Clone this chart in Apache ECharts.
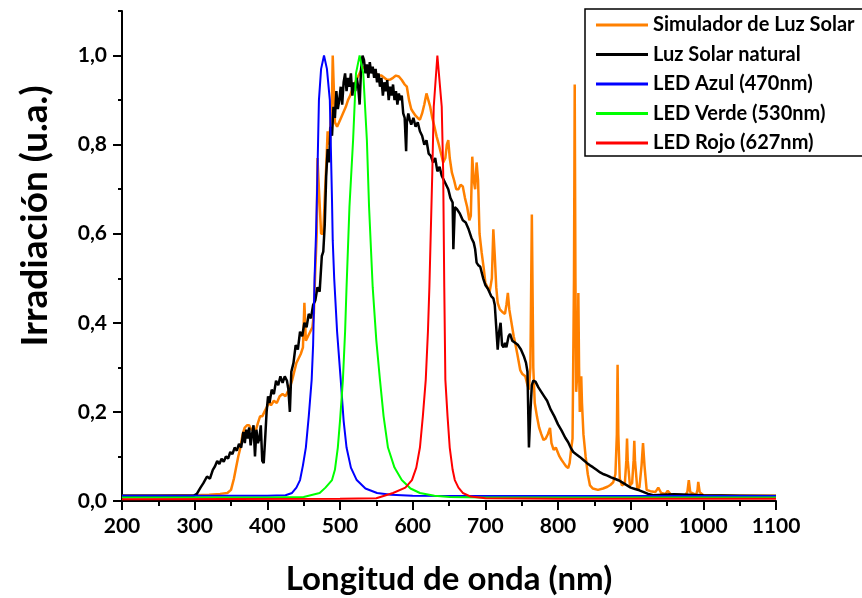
<!DOCTYPE html>
<html>
<head>
<meta charset="utf-8">
<script src="https://cdn.jsdelivr.net/npm/echarts@6/dist/echarts.min.js"></script>
<style>html,body{margin:0;padding:0;background:#fff}#c{width:862px;height:598px}</style>
</head>
<body>
<div id="c"></div>
<script>
// ---- data (wavelength nm, irradiance a.u.) ----
const seriesNames = ['Simulador de Luz Solar', 'Luz Solar natural', 'LED Azul (470nm)', 'LED Verde (530nm)', 'LED Rojo (627nm)'];
const seriesColors = ['#FF8000', '#000000', '#0000FF', '#00FF00', '#FF0000'];
const yTickValues = [0, 0.2, 0.4, 0.6, 0.8, 1.0];

const simX = [200,250,300,320,335,345,350,354,357,360,363,366,369,372,375,378,381,384,387,390,393,396,399,402,405,409,413,417,421,425,428,431,434,437,440,443,446,449,451,453,456,459,462,464,466,468,469,471,474,477,479,481,483,485,487,489,490,491,493,496,500,504,508,511,514,518,521,524,527,530,534,537,541,545,549,553,557,561,565,569,573,577,581,585,589,592,595,598,601,604,607,610,613,616,619,621,624,627,630,633,636,639,642,645,647,649,651,654,657,660,663,666,669,672,675,678,680,682,684,686,688,690,692,695,698,700,703,706,709,711,713,715,717,720,723,727,729,731,733,735,737,739,741,744,748,751,755,758,760,762,764,766,768,771,774,777,780,783,786,789,791,794,797,799,802,805,808,811,814,816,818,820,822,823,824,825,826,827,828,829,830,832,833,835,838,841,844,848,855,862,868,872,876,879,881,882,883,885,888,892,894,895,896,899,902,904,905,906,909,912,915,917,919,922,927,934,938,942,948,951,955,965,975,978,980,982,990,992,993,995,1000,1050,1100];
const simY = [0.012,0.012,0.013,0.014,0.016,0.018,0.025,0.05,0.075,0.1,0.12,0.15,0.165,0.17,0.17,0.16,0.162,0.158,0.175,0.19,0.19,0.2,0.21,0.22,0.215,0.225,0.22,0.235,0.24,0.235,0.245,0.255,0.27,0.29,0.31,0.32,0.33,0.345,0.445,0.36,0.37,0.38,0.39,0.42,0.52,0.6,0.77,0.7,0.6,0.6,0.68,0.75,0.83,0.8,0.8,0.9,1.0,0.95,0.85,0.84,0.855,0.87,0.885,0.9,0.91,0.93,0.94,0.95,0.96,0.97,0.975,0.975,0.97,0.965,0.96,0.955,0.955,0.95,0.945,0.946,0.95,0.955,0.953,0.945,0.935,0.93,0.9,0.88,0.872,0.865,0.86,0.856,0.87,0.89,0.915,0.915,0.886,0.86,0.84,0.818,0.8,0.78,0.76,0.77,0.8,0.81,0.77,0.737,0.72,0.7,0.7,0.71,0.706,0.68,0.66,0.63,0.64,0.773,0.72,0.7,0.76,0.72,0.6,0.557,0.52,0.49,0.48,0.47,0.5,0.61,0.55,0.48,0.445,0.43,0.425,0.42,0.44,0.467,0.43,0.41,0.39,0.37,0.355,0.33,0.294,0.285,0.28,0.26,0.25,0.3,0.643,0.3,0.22,0.19,0.165,0.15,0.137,0.14,0.15,0.164,0.13,0.115,0.12,0.12,0.1,0.092,0.085,0.078,0.074,0.085,0.115,0.14,0.5,0.935,0.5,0.245,0.243,0.3,0.467,0.3,0.2,0.28,0.22,0.15,0.1,0.06,0.035,0.028,0.025,0.028,0.032,0.036,0.042,0.06,0.15,0.306,0.15,0.05,0.035,0.04,0.09,0.14,0.09,0.035,0.04,0.09,0.135,0.09,0.03,0.03,0.08,0.13,0.08,0.025,0.022,0.02,0.03,0.018,0.016,0.023,0.015,0.014,0.013,0.02,0.047,0.02,0.014,0.025,0.043,0.02,0.013,0.012,0.012];

const sunX = [200,250,299,303,308,312,317,321,325,328,331,334,337,340,343,346,349,352,355,358,361,364,367,369,371,373,375,377,379,381,383,385,387,389,391,393,395,397,399,401,403,406,409,412,415,418,421,424,427,429,431,433,436,439,442,445,448,451,454,457,460,463,466,469,472,475,477,479,481,483,485,487,489,491,493,495,497,499,501,503,505,507,509,511,513,515,517,519,521,523,525,527,529,531,533,535,537,539,541,543,545,547,549,551,553,555,557,559,561,563,565,567,569,571,573,575,577,579,581,583,585,587,589,591,592,594,596,598,601,604,607,610,613,616,619,622,625,628,631,634,637,640,643,646,649,652,655,656,658,661,665,669,673,677,681,684,686,688,690,693,697,700,704,708,711,713,715,717,719,721,723,725,727,729,732,734,737,741,745,749,753,756,758,760,762,764,766,769,773,777,781,785,790,795,800,805,810,814,818,821,825,830,835,840,844,848,853,858,863,868,873,878,884,890,895,900,906,912,918,924,931,945,960,980,1000,1050,1100];
const sunY = [0.012,0.012,0.012,0.016,0.03,0.04,0.055,0.05,0.07,0.078,0.09,0.083,0.095,0.088,0.1,0.095,0.11,0.105,0.12,0.113,0.128,0.12,0.155,0.13,0.16,0.14,0.165,0.125,0.15,0.17,0.1,0.16,0.13,0.14,0.17,0.09,0.085,0.14,0.2,0.235,0.22,0.25,0.24,0.27,0.26,0.28,0.265,0.28,0.27,0.25,0.2,0.29,0.31,0.35,0.34,0.38,0.37,0.4,0.39,0.42,0.41,0.44,0.45,0.48,0.47,0.55,0.56,0.62,0.73,0.79,0.76,0.84,0.82,0.885,0.86,0.92,0.88,0.9,0.93,0.89,0.94,0.96,0.92,0.95,0.93,0.96,0.91,0.94,0.92,0.95,0.93,0.89,0.97,1.0,0.99,0.96,0.98,0.95,0.985,0.96,0.975,0.95,0.97,0.94,0.96,0.93,0.95,0.91,0.94,0.92,0.945,0.9,0.93,0.91,0.935,0.9,0.92,0.89,0.915,0.9,0.91,0.87,0.86,0.785,0.85,0.87,0.855,0.845,0.86,0.84,0.85,0.83,0.82,0.8,0.81,0.78,0.775,0.76,0.77,0.74,0.75,0.73,0.72,0.71,0.7,0.68,0.67,0.565,0.66,0.655,0.645,0.63,0.625,0.61,0.59,0.58,0.565,0.535,0.53,0.526,0.5,0.485,0.475,0.46,0.455,0.44,0.39,0.34,0.38,0.4,0.35,0.345,0.355,0.345,0.37,0.375,0.36,0.355,0.35,0.34,0.325,0.31,0.29,0.12,0.2,0.26,0.27,0.268,0.255,0.245,0.235,0.225,0.205,0.19,0.172,0.158,0.142,0.132,0.118,0.11,0.105,0.099,0.092,0.085,0.08,0.076,0.07,0.064,0.06,0.057,0.053,0.05,0.046,0.04,0.035,0.03,0.027,0.024,0.02,0.016,0.013,0.014,0.015,0.014,0.013,0.012,0.011];

const blueX = [200,300,400,425,434,440,445,449,453,457,461,463,465,467,468.5,471,474,478,482,486,489,490,492,496,501,505,509,515,523,535,551,570,600,700,800,900,1000,1100];
const blueY = [0.012,0.012,0.012,0.013,0.018,0.03,0.047,0.08,0.12,0.19,0.272,0.35,0.5,0.6,0.7,0.9,0.97,1.0,0.97,0.9,0.675,0.585,0.5,0.38,0.272,0.18,0.12,0.075,0.047,0.028,0.018,0.014,0.012,0.011,0.011,0.011,0.011,0.011];

const greenX = [200,400,450,472,480,489,493,497,500,504,507,509,513,518,522,527,532,537,540,545,550,555,560,566,575,585,597,610,630,651,700,800,1100];
const greenY = [0.008,0.008,0.009,0.018,0.03,0.047,0.07,0.12,0.18,0.272,0.38,0.48,0.66,0.81,0.96,1.0,0.96,0.81,0.66,0.48,0.36,0.272,0.19,0.12,0.075,0.047,0.028,0.018,0.012,0.009,0.008,0.008,0.008];

const redX = [200,500,550,573,590,599,605,610,614,618,621,623,627,629,634,640,642,643.5,645,648,651,655,658,663,669,680,700,800,1100];
const redY = [0.004,0.005,0.006,0.018,0.03,0.047,0.075,0.12,0.19,0.272,0.38,0.48,0.737,0.885,1.0,0.885,0.737,0.48,0.272,0.19,0.12,0.07,0.047,0.03,0.018,0.01,0.006,0.005,0.005];

const allX = [simX, sunX, blueX, greenX, redX];
const allY = [simY, sunY, blueY, greenY, redY];
const lineWidths = [2.5, 2.5, 2, 2, 2];

const FONT = 'Lato, "Open Sans", sans-serif';
const chart = echarts.init(document.getElementById('c'), null, {renderer: 'canvas'});

const series = seriesNames.map((name, i) => ({
  name: name,
  type: 'line',
  data: allX[i].map((x, k) => [x, allY[i][k]]),
  showSymbol: false,
  symbol: 'none',
  lineStyle: {color: seriesColors[i], width: lineWidths[i]},
  itemStyle: {color: seriesColors[i]},
  z: 2 + i,
  animation: false
}));

const fmtY = v => v.toFixed(1).replace('.', ',');
const fmtX = v => String(Math.round(v));

chart.setOption({
  backgroundColor: '#fff',
  animation: false,
  grid: {left: 122, right: 86, top: 11, bottom: 97, containLabel: false, outerBoundsMode: 'none'},
  legend: {
    data: seriesNames,
    orient: 'vertical',
    left: 585, top: 9,
    padding: [5, 0, 0, 11],
    itemWidth: 52, itemHeight: 3,
    itemGap: 7.5,
    icon: 'rect',
    textStyle: {fontFamily: FONT, fontWeight: 'bold', fontSize: 20, color: '#000', lineHeight: 22}
  },
  graphic: [
    {type: 'rect', shape: {x: 585, y: 9, width: 300, height: 147}, style: {fill: 'none', stroke: '#000', lineWidth: 1.5}, z: 100, silent: true},
    {type: 'text', x: 35, y: 216, rotation: Math.PI / 2,
     style: {text: 'Irradiación (u.a.)', font: 'bold 37px ' + FONT, fill: '#000', textAlign: 'center', textVerticalAlign: 'middle', align: 'center', verticalAlign: 'middle'}}
  ],
  xAxis: {
    type: 'value', min: 200, max: 1100, interval: 100,
    name: 'Longitud de onda (nm)', nameLocation: 'middle', nameGap: 62,
    nameTextStyle: {fontFamily: FONT, fontWeight: 'bold', fontSize: 33, color: '#000'},
    axisLine: {show: true, onZero: false, lineStyle: {color: '#000', width: 2}},
    axisTick: {show: true, inside: false, length: 9, lineStyle: {color: '#000', width: 2}},
    minorTick: {show: true, splitNumber: 2, length: 5, lineStyle: {color: '#000', width: 2}},
    axisLabel: {formatter: fmtX, fontFamily: FONT, fontWeight: 'bold', fontSize: 21, color: '#000', margin: 15},
    splitLine: {show: false}, minorSplitLine: {show: false}
  },
  yAxis: [
    {
      type: 'value', min: 0, max: 1.1, interval: 0.1, position: 'left',
      axisLine: {show: true, onZero: false, lineStyle: {color: '#000', width: 2}},
      axisTick: {show: true, inside: false, length: 4, lineStyle: {color: '#000', width: 2}},
      axisLabel: {show: false},
      splitLine: {show: false}
    },
    {
      type: 'value', min: 0, max: 1.1, position: 'left',
      axisLine: {show: false},
      axisTick: {show: true, inside: false, length: 9, customValues: yTickValues, lineStyle: {color: '#000', width: 2}},
      axisLabel: {customValues: yTickValues, formatter: fmtY, fontFamily: FONT, fontWeight: 'bold', fontSize: 21, color: '#000', margin: 15},
      splitLine: {show: false}
    }
  ],
  series: series
});
</script>
</body>
</html>
